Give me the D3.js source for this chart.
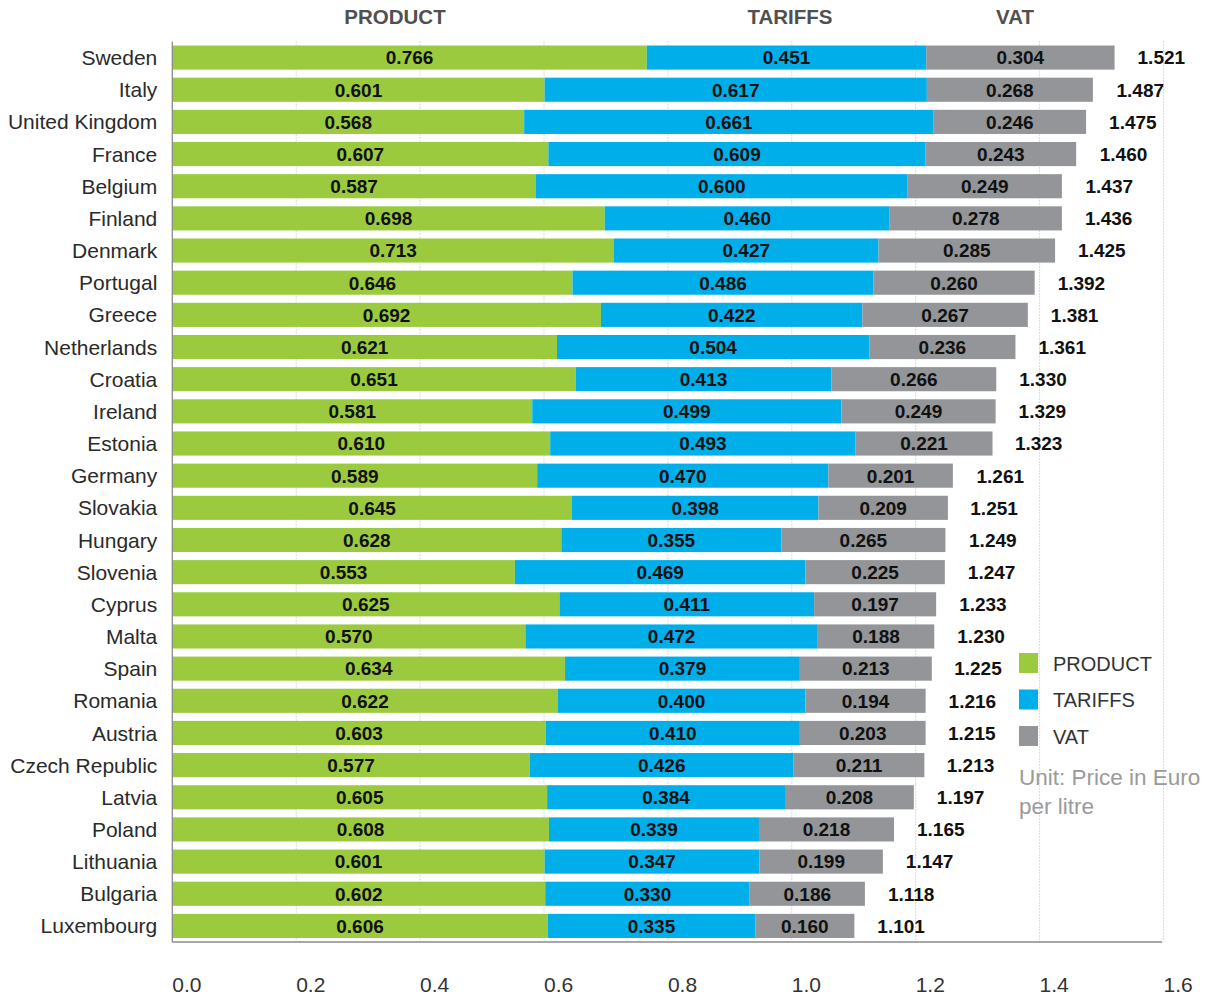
<!DOCTYPE html>
<html>
<head>
<meta charset="utf-8">
<script src="https://cdn.jsdelivr.net/npm/d3@7/dist/d3.min.js"></script>
<style>
  html, body { margin: 0; padding: 0; background: #fff; }
  svg { display: block; font-family: "Liberation Sans", Arial, Helvetica, sans-serif; }
</style>
</head>
<body>
<svg id="chart" width="1211" height="995"></svg>
<script>
// Fuel price components per country (Euro per litre)
const countries = ["Sweden","Italy","United Kingdom","France","Belgium","Finland","Denmark","Portugal","Greece","Netherlands","Croatia","Ireland","Estonia","Germany","Slovakia","Hungary","Slovenia","Cyprus","Malta","Spain","Romania","Austria","Czech Republic","Latvia","Poland","Lithuania","Bulgaria","Luxembourg"];
const product = [0.766,0.601,0.568,0.607,0.587,0.698,0.713,0.646,0.692,0.621,0.651,0.581,0.610,0.589,0.645,0.628,0.553,0.625,0.570,0.634,0.622,0.603,0.577,0.605,0.608,0.601,0.602,0.606];
const tariffs = [0.451,0.617,0.661,0.609,0.600,0.460,0.427,0.486,0.422,0.504,0.413,0.499,0.493,0.470,0.398,0.355,0.469,0.411,0.472,0.379,0.400,0.410,0.426,0.384,0.339,0.347,0.330,0.335];
const vat     = [0.304,0.268,0.246,0.243,0.249,0.278,0.285,0.260,0.267,0.236,0.266,0.249,0.221,0.201,0.209,0.265,0.225,0.197,0.188,0.213,0.194,0.203,0.211,0.208,0.218,0.199,0.186,0.160];
const totals  = [1.521,1.487,1.475,1.460,1.437,1.436,1.425,1.392,1.381,1.361,1.330,1.329,1.323,1.261,1.251,1.249,1.247,1.233,1.230,1.225,1.216,1.215,1.213,1.197,1.165,1.147,1.118,1.101];
const seriesNames = ["PRODUCT","TARIFFS","VAT"];
const tickValues = [0.0,0.2,0.4,0.6,0.8,1.0,1.2,1.4,1.6];

const colors = { PRODUCT: "#9cca3f", TARIFFS: "#00aeea", VAT: "#939598" };

const svg = d3.select("#chart");
const plotLeft = 172.3, plotRight = 1163.5, plotTop = 41.5, plotBottom = 942;

const x = d3.scaleLinear().domain([0, 1.6]).range([plotLeft, plotRight]);
const y = d3.scaleBand().domain(countries).range([plotTop, plotBottom])
  .paddingInner(0.25).paddingOuter(0.125);

const rows = countries.map((c, i) => ({
  country: c, PRODUCT: product[i], TARIFFS: tariffs[i], VAT: vat[i], total: totals[i]
}));
const stacked = d3.stack().keys(seriesNames)(rows);

// dotted vertical gridlines
svg.append("g").selectAll("line")
  .data(tickValues.filter(d => d > 0))
  .join("line")
  .attr("x1", d => x(d)).attr("x2", d => x(d))
  .attr("y1", plotTop).attr("y2", plotBottom)
  .attr("stroke", "#b5b5b5").attr("stroke-width", 1)
  .attr("stroke-dasharray", "1,2");

// stacked bars
const layers = svg.append("g").selectAll("g")
  .data(stacked).join("g")
  .attr("fill", d => colors[d.key]);

layers.selectAll("rect")
  .data(d => d)
  .join("rect")
  .attr("x", d => x(d[0]))
  .attr("width", d => x(d[1]) - x(d[0]))
  .attr("y", d => y(d.data.country))
  .attr("height", y.bandwidth());

// segment value labels
const labels = svg.append("g")
  .attr("font-weight", "bold").attr("font-size", "19px").attr("fill", "#111")
  .attr("text-anchor", "middle");
stacked.forEach(layer => {
  labels.selectAll(null)
    .data(layer)
    .join("text")
    .attr("x", d => (x(d[0]) + x(d[1])) / 2)
    .attr("y", d => y(d.data.country) + y.bandwidth() / 2)
    .attr("dy", "0.36em")
    .text(d => d3.format(".3f")(d.data[layer.key]));
});

// totals at bar ends
svg.append("g")
  .attr("font-weight", "bold").attr("font-size", "19px").attr("fill", "#111")
  .selectAll("text")
  .data(rows)
  .join("text")
  .attr("x", d => x(d.total) + 23)
  .attr("y", d => y(d.country) + y.bandwidth() / 2)
  .attr("dy", "0.36em")
  .text(d => d3.format(".3f")(d.total));

// country labels
svg.append("g")
  .attr("font-size", "21px").attr("fill", "#2a2a2a").attr("text-anchor", "end")
  .selectAll("text")
  .data(countries)
  .join("text")
  .attr("x", plotLeft - 15)
  .attr("y", d => y(d) + y.bandwidth() / 2)
  .attr("dy", "0.36em")
  .text(d => d);

// axis lines
svg.append("line")
  .attr("x1", plotLeft).attr("x2", plotLeft).attr("y1", plotTop).attr("y2", plotBottom)
  .attr("stroke", "#8a8a8a").attr("stroke-width", 1.3);
svg.append("line")
  .attr("x1", plotLeft).attr("x2", plotRight - 1.5).attr("y1", plotBottom).attr("y2", plotBottom)
  .attr("stroke", "#8a8a8a").attr("stroke-width", 1.3);

// x tick labels (left-aligned on each tick)
svg.append("g")
  .attr("font-size", "21px").attr("fill", "#333")
  .selectAll("text")
  .data(tickValues)
  .join("text")
  .attr("x", d => x(d))
  .attr("y", 992)
  .text(d => d3.format(".1f")(d));

// column headers
const headerX = { PRODUCT: 395, TARIFFS: 790, VAT: 1015 };
svg.append("g")
  .attr("font-weight", "bold").attr("font-size", "20.5px").attr("fill", "#505050")
  .attr("text-anchor", "middle")
  .selectAll("text")
  .data(seriesNames)
  .join("text")
  .attr("x", d => headerX[d])
  .attr("y", 24)
  .text(d => d);

// legend
const legend = svg.append("g").attr("transform", "translate(1019,653)");
const items = legend.selectAll("g").data(seriesNames).join("g")
  .attr("transform", (d, i) => `translate(0,${i * 36.5})`);
items.append("rect").attr("width", 19).attr("height", 20)
  .attr("fill", d => colors[d]);
items.append("text").attr("x", 34).attr("y", 17.5)
  .attr("font-size", "20px").attr("fill", "#333")
  .text(d => d);

const unit = svg.append("text")
  .attr("font-size", "22.5px").attr("fill", "#9a9a9a");
unit.append("tspan").attr("x", 1019).attr("y", 785).text("Unit: Price in Euro");
unit.append("tspan").attr("x", 1019).attr("y", 814).text("per litre");
</script>
</body>
</html>
